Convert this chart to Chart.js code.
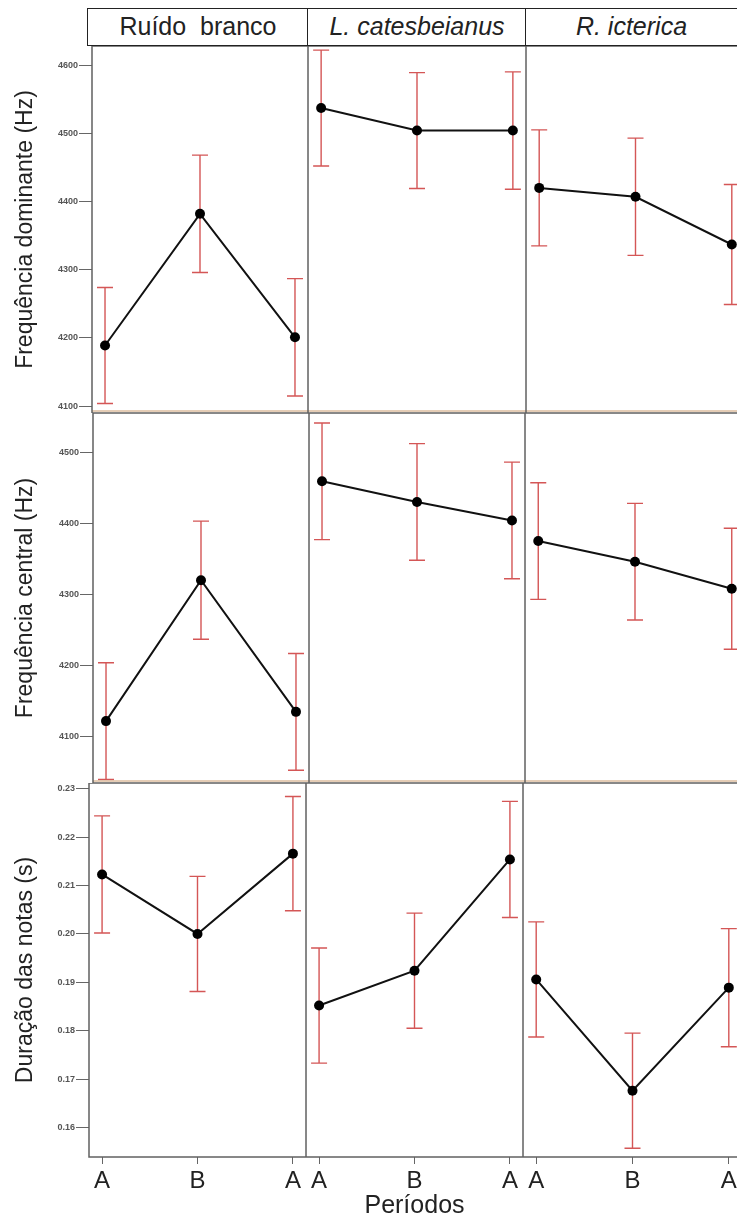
<!DOCTYPE html>
<html>
<head>
<meta charset="utf-8">
<script src="https://cdn.jsdelivr.net/npm/chart.js@4.4.1/dist/chart.umd.min.js"></script>
<style>
  html, body { margin: 0; padding: 0; background: #fff; overflow: hidden; }
  #page { position: relative; width: 737px; height: 1221px; overflow: hidden; }
  canvas { position: absolute; }
  .strip {
    position: absolute; top: 8px; height: 38px; box-sizing: border-box;
    border: 1.5px solid #222; background: #fff; color: #222;
    font: 25px "Liberation Sans", Arial, sans-serif;
    text-align: center; line-height: 34px; white-space: pre;
  }
  .strip i { font-style: italic; }
</style>
</head>
<body>
<div id="page">
  <div class="strip" style="left:87px; width:222px;">Ruído  branco</div>
  <div class="strip" style="left:307px; width:220px;"><i>L. catesbeianus</i></div>
  <div class="strip" style="left:525px; width:212px; border-right:none;"><i>R. icterica</i></div>
</div>
<script>
// dados
const periods = ['A', 'B', 'A'];
const rowTitles = ['Frequência dominante (Hz)', 'Frequência central (Hz)', 'Duração das notas (s)'];

// uma linha por espécie: Ruído branco, L. catesbeianus, R. icterica
const domMean = [[4189, 4382, 4201], [4537, 4504, 4504], [4420, 4407, 4337]];
const domErr  = [[85, 86, 86], [85, 85, 86], [85, 86, 88]];
const cenMean = [[4122, 4320, 4135], [4459, 4430, 4404], [4375, 4346, 4308]];
const cenErr  = [[82, 83, 82], [82, 82, 82], [82, 82, 85]];
const durMean = [[0.2123, 0.2000, 0.2166], [0.1852, 0.1924, 0.2154], [0.1906, 0.1676, 0.1889]];
const durErr  = [[0.0121, 0.0119, 0.0118], [0.0119, 0.0119, 0.0120], [0.0119, 0.0119, 0.0122]];

const domTicks = [4100, 4200, 4300, 4400, 4500, 4600];
const cenTicks = [4100, 4200, 4300, 4400, 4500];
const durTicks = [0.16, 0.17, 0.18, 0.19, 0.20, 0.21, 0.22, 0.23];

const domRange = [4090, 4628];
const cenRange = [4035, 4555];
const durRange = [0.1539, 0.2312];

const rows = [
  { mean: domMean, err: domErr, ticks: domTicks, range: domRange, dec: 0 },
  { mean: cenMean, err: cenErr, ticks: cenTicks, range: cenRange, dec: 0 },
  { mean: durMean, err: durErr, ticks: durTicks, range: durRange, dec: 2 },
];

// layout of the panels (pixels)
const rowTop = [46, 413, 783];
const rowBottom = [413, 783, 1157];
const colEdges = [[92, 308, 526, 745], [93, 309, 525, 745], [89, 306, 523, 742]];
const pageH = 1221;

Chart.defaults.font.family = '"Liberation Sans", Arial, sans-serif';
Chart.defaults.animation = false;

const errorBars = {
  id: 'errorBars',
  beforeDatasetsDraw(chart, args, opts) {
    const { ctx, scales: { x, y } } = chart;
    ctx.save();
    ctx.strokeStyle = '#d45656';
    ctx.lineWidth = 1.4;
    opts.mean.forEach((m, i) => {
      const px = x.getPixelForValue(i + 1);
      const yTop = y.getPixelForValue(m + opts.err[i]);
      const yBot = y.getPixelForValue(m - opts.err[i]);
      ctx.beginPath();
      ctx.moveTo(px, yTop); ctx.lineTo(px, yBot);
      ctx.moveTo(px - 8, yTop); ctx.lineTo(px + 8, yTop);
      ctx.moveTo(px - 8, yBot); ctx.lineTo(px + 8, yBot);
      ctx.stroke();
    });
    ctx.restore();
  }
};

const panelFrame = {
  id: 'panelFrame',
  afterDraw(chart, args, opts) {
    const { ctx, chartArea: a } = chart;
    ctx.save();
    if (opts.tan) {
      ctx.strokeStyle = '#dcbc9e';
      ctx.lineWidth = 1.5;
      ctx.beginPath();
      ctx.moveTo(a.left, a.bottom - 2); ctx.lineTo(a.right, a.bottom - 2);
      ctx.stroke();
    }
    ctx.strokeStyle = '#606060';
    ctx.lineWidth = 1.5;
    ctx.strokeRect(a.left, a.top, a.right - a.left, a.bottom - a.top);
    ctx.restore();
  }
};

const page = document.getElementById('page');

rows.forEach((row, r) => {
  for (let c = 0; c < 3; c++) {
    const left = c === 0 ? 0 : colEdges[r][c];
    const right = colEdges[r][c + 1];
    const top = rowTop[r];
    const bottom = r === 2 ? pageH : rowBottom[r];

    const canvas = document.createElement('canvas');
    canvas.width = right - left;
    canvas.height = bottom - top;
    canvas.style.left = left + 'px';
    canvas.style.top = top + 'px';
    page.insertBefore(canvas, page.firstChild);

    const mean = row.mean[c];
    const yAxisShown = c === 0;
    const xAxisShown = r === 2;

    new Chart(canvas, {
      type: 'line',
      data: {
        datasets: [{
          data: mean.map((v, i) => ({ x: i + 1, y: v })),
          borderColor: '#111',
          borderWidth: 2,
          pointRadius: 5,
          pointBackgroundColor: '#000',
          pointBorderWidth: 0,
          tension: 0,
          clip: false,
        }]
      },
      options: {
        responsive: false,
        devicePixelRatio: 1,
        layout: { padding: 0, autoPadding: false },
        plugins: {
          legend: { display: false },
          tooltip: { enabled: false },
          errorBars: { mean: mean, err: row.err[c] },
          panelFrame: { tan: r < 2 },
        },
        scales: {
          x: {
            type: 'linear',
            min: 0.863,
            max: 3.137,
            display: xAxisShown,
            afterBuildTicks: (s) => { s.ticks = [1, 2, 3].map(v => ({ value: v })); },
            afterFit: (s) => {
              s.height = xAxisShown ? pageH - rowBottom[2] : 0;
              s.paddingLeft = 0; s.paddingRight = 0;
            },
            grid: { display: true, drawOnChartArea: false, tickLength: 7, color: '#666' },
            border: { display: false },
            ticks: {
              color: '#222',
              font: { size: 24 },
              padding: 3,
              maxRotation: 0,
              callback: (v) => periods[v - 1],
            },
            title: {
              display: c === 1,
              text: 'Períodos',
              color: '#222',
              font: { size: 25 },
              padding: { top: 0, bottom: 0 },
            },
          },
          y: {
            type: 'linear',
            min: row.range[0],
            max: row.range[1],
            display: yAxisShown,
            afterBuildTicks: (s) => { s.ticks = row.ticks.map(v => ({ value: v })); },
            afterFit: (s) => {
              s.width = yAxisShown ? colEdges[r][0] : 0;
              s.paddingTop = 0; s.paddingBottom = 0;
            },
            grid: { display: true, drawOnChartArea: false, tickLength: 13, color: '#666' },
            border: { display: false },
            ticks: {
              color: '#555',
              font: { size: 9, weight: 'bold' },
              padding: 1,
              callback: (v) => v.toFixed(row.dec),
            },
            title: {
              display: true,
              text: rowTitles[r],
              color: '#222',
              font: { size: 23 },
              padding: { top: 12, bottom: 0 },
            },
          },
        },
      },
      plugins: [errorBars, panelFrame],
    });
  }
});
</script>
</body>
</html>
